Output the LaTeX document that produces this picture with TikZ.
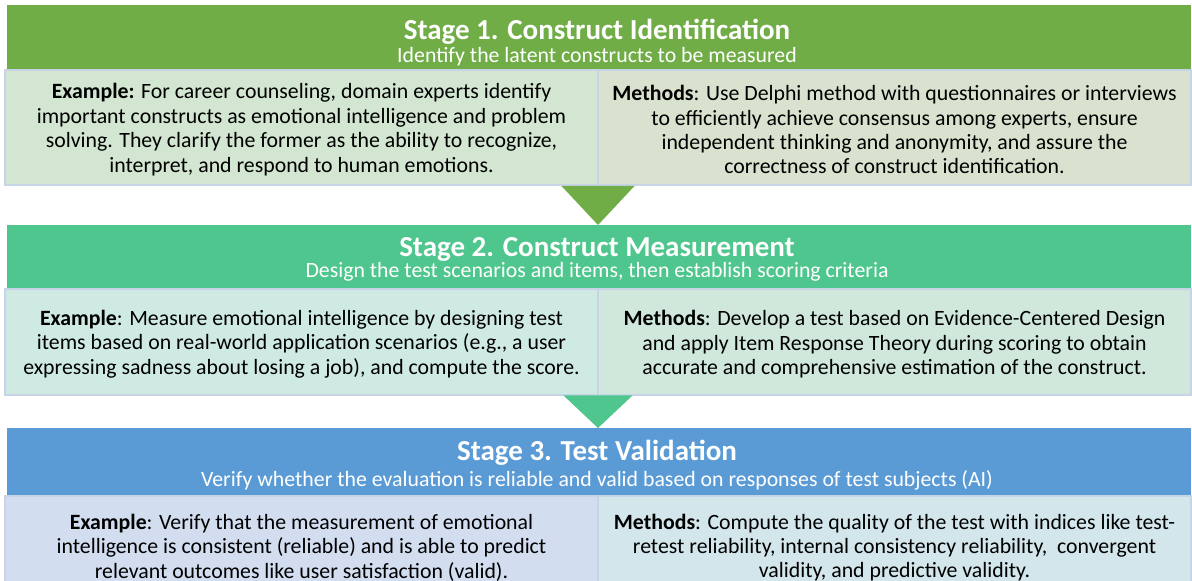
\documentclass[tikz,border=0pt]{standalone}
\usepackage{fontspec}
\setmainfont{Carlito}
\definecolor{gA}{RGB}{112,173,71}
\definecolor{gB}{RGB}{78,198,141}
\definecolor{bC}{RGB}{91,155,213}
\definecolor{aL}{RGB}{211,230,209}
\definecolor{aR}{RGB}{217,226,207}
\definecolor{bL}{RGB}{207,234,227}
\definecolor{bR}{RGB}{208,232,220}
\definecolor{cL}{RGB}{211,221,240}
\definecolor{cR}{RGB}{210,230,236}
\definecolor{edgeC}{RGB}{198,212,230}
\begin{document}
\begin{tikzpicture}[x=0.5pt,y=-0.5pt,
  band/.style={anchor=north west,inner sep=0pt,outer sep=0pt,minimum width=592pt},
  textbox/.style={anchor=north west,inner sep=0pt,outer sep=0pt,minimum width=296.5pt,draw=edgeC,line width=0.6pt},
  body/.style={align=center,inner sep=0pt,yshift=-1.1pt,font=\fontsize{10.9pt}{12.2pt}\selectfont},
  title/.style={anchor=base,inner sep=0pt,text=white,font=\fontsize{14.5pt}{17pt}\selectfont\bfseries},
  subtitle/.style={anchor=base,inner sep=0pt,text=white,font=\fontsize{10.9pt}{12pt}\selectfont}]
\useasboundingbox (0,0) rectangle (1192,581);
\fill[white] (0,0) rectangle (1192,581);
% Stage 1
\node[band,fill=gA,minimum height=32.5pt] (s1) at (6.5,5) {};
\node[title] (t1) at (597,40) {Stage 1. Construct Identification};
\node[subtitle] (u1) at (597,63) {Identify the latent constructs to be measured};
\node[textbox,fill=aL,minimum height=57.5pt] (e1) at (5,70) {};
\node[textbox,fill=aR,minimum height=57.5pt] (m1) at (598,70) {};
\node[body] at (e1.center) {\textbf{Example:} For career counseling, domain experts identify\\important constructs as emotional intelligence and problem\\solving. They clarify the former as the ability to recognize,\\interpret, and respond to human emotions.};
\node[body] at (m1.center) {\textbf{Methods}: Use Delphi method with questionnaires or interviews\\to efficiently achieve consensus among experts, ensure\\independent thinking and anonymity, and assure the\\correctness of construct identification.};
% Stage 2
\node[band,fill=gB,minimum height=32pt] (s2) at (6.5,225) {};
\node[title] (t2) at (597,257) {Stage 2. Construct Measurement};
\node[subtitle] (u2) at (597,278) {Design the test scenarios and items, then establish scoring criteria};
\node[textbox,fill=bL,minimum height=53pt] (e2) at (5,289) {};
\node[textbox,fill=bR,minimum height=53pt] (m2) at (598,289) {};
\node[body] at (e2.center) {\textbf{Example}: Measure emotional intelligence by designing test\\items based on real-world application scenarios (e.g., a user\\expressing sadness about losing a job), and compute the score.};
\node[body] at (m2.center) {\textbf{Methods}: Develop a test based on Evidence-Centered Design\\and apply Item Response Theory during scoring to obtain\\accurate and comprehensive estimation of the construct.};
% Stage 3
\node[band,fill=bC,minimum height=34pt] (s3) at (6.5,428) {};
\node[title] (t3) at (597,461) {Stage 3. Test Validation};
\node[subtitle] (u3) at (597,487) {Verify whether the evaluation is reliable and valid based on responses of test subjects (AI)};
\node[textbox,fill=cL,minimum height=49.5pt] (e3) at (5,496) {};
\node[textbox,fill=cR,minimum height=49.5pt] (m3) at (598,496) {};
\node[body] at (e3.center) {\textbf{Example}: Verify that the measurement of emotional\\intelligence is consistent (reliable) and is able to predict\\relevant outcomes like user satisfaction (valid).};
\node[body] at (m3.center) {\textbf{Methods}: Compute the quality of the test with indices like test-\\retest reliability, internal consistency reliability,\ \ convergent\\validity, and predictive validity.};
% arrows
\coordinate (a1) at (598,186);
\coordinate (a2) at (598,395.5);
\fill[gA] (a1) ++(-36.5,0) -- ++(73,0) -- (s2.north -| a1) -- cycle;
\fill[gB] (a2) ++(-34.5,0) -- ++(69,0) -- (s3.north -| a2) -- cycle;
\end{tikzpicture}
\end{document}
